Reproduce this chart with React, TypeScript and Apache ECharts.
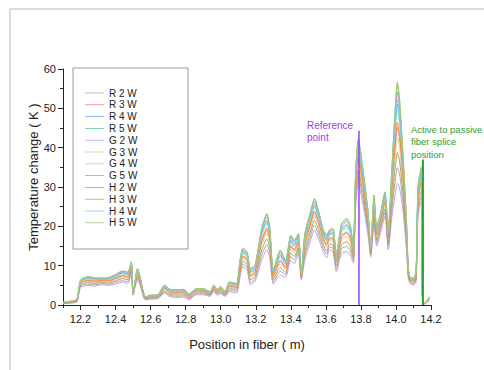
import React, { useEffect, useRef } from "react";
import * as echarts from "echarts";

const positions = [12.10,12.15,12.18,12.20,12.24,12.28,12.32,12.36,12.40,12.44,12.47,12.49,12.50,12.525,12.54,12.57,12.60,12.64,12.68,12.71,12.75,12.79,12.82,12.86,12.90,12.94,12.96,12.98,13.00,13.025,13.05,13.09,13.11,13.126,13.15,13.17,13.196,13.235,13.263,13.28,13.30,13.34,13.37,13.40,13.42,13.443,13.46,13.48,13.51,13.535,13.557,13.586,13.605,13.62,13.64,13.66,13.69,13.72,13.74,13.757,13.77,13.785,13.81,13.84,13.856,13.875,13.89,13.91,13.937,13.956,13.976,13.995,14.008,14.02,14.04,14.06,14.07,14.08,14.10,14.115,14.125,14.135,14.145,14.152,14.165,14.18,14.19];

const R2W = [0.4,0.6,0.9,4.8,5.3,5.1,5.4,5.3,5.7,6.2,5.9,8.5,2.6,6.9,5.3,1.4,1.7,1.8,3.3,2.4,2.2,2.3,1.5,2.8,2.8,2.4,3.7,2.7,3.2,2.4,3.8,3.4,7.7,10.4,9.7,5.7,6.6,12.8,15.4,13.2,5.8,8.6,7.7,12.4,11.4,13.9,6.7,12.5,17.1,20.3,18.1,14.3,12.9,14.8,14.4,9.2,14.3,14.9,13.7,11.2,26.4,32.7,27.4,18.9,12.7,21.2,15.7,18.8,23.5,14.8,23.9,31.2,34.9,33.5,26.2,15.1,7.4,5.8,5.3,6.4,23.2,26.2,27.6,0.6,0.5,0.9,1.3];
const R3W = [0.5,0.8,1.2,5.5,6.2,6.0,6.1,6.1,6.7,7.4,7.1,9.7,2.8,8.0,6.2,1.7,2.1,2.2,4.2,3.2,3.0,3.1,2.1,3.5,3.5,2.9,4.3,3.3,3.9,2.9,4.8,4.4,9.4,12.3,11.5,7.4,8.3,16.1,19.1,16.4,7.3,11.1,9.4,14.9,13.8,15.9,7.3,15.2,20.0,23.5,21.0,16.6,15.2,16.8,16.8,11.0,17.3,18.2,16.8,12.9,30.1,37.3,31.1,21.4,13.7,24.4,17.7,20.8,26.0,16.8,28.8,39.9,45.2,42.7,32.0,18.2,8.5,6.4,6.0,7.6,26.4,29.4,31.2,0.8,0.4,1.1,1.7];
const R4W = [0.6,0.9,1.3,6.0,6.7,6.5,6.4,6.6,7.2,8.1,7.8,10.3,2.9,8.7,6.7,1.9,2.3,2.4,4.6,3.6,3.5,3.6,2.5,3.9,3.8,3.1,4.7,3.7,4.3,3.1,5.4,5.0,10.4,13.4,12.6,8.4,9.3,18.1,21.3,18.2,8.1,12.6,10.4,16.4,15.2,17.1,7.7,16.7,21.7,25.3,22.6,17.9,16.5,18.0,18.2,12.1,19.1,20.2,18.6,13.9,32.3,39.9,33.2,22.8,14.3,26.2,18.8,21.9,27.4,18.0,31.6,44.9,51.1,47.9,35.4,19.9,9.1,6.8,6.4,8.3,28.2,31.2,33.2,0.9,0.3,1.2,1.9];
const R5W = [0.7,1.0,1.5,6.3,7.1,6.9,6.8,6.9,7.7,8.6,8.3,10.9,3.0,9.2,7.1,2.1,2.5,2.6,5.0,3.9,3.8,3.9,2.8,4.1,4.1,3.4,5.0,4.0,4.6,3.4,5.8,5.4,11.3,14.3,13.5,9.2,10.1,19.6,23.0,19.7,8.8,13.8,11.3,17.6,16.3,18.0,8.0,18.0,23.1,26.9,24.0,18.9,17.6,18.9,19.3,13.0,20.6,21.7,20.1,14.7,34.0,42.1,34.9,24.0,14.7,27.8,19.8,22.8,28.6,19.0,33.9,49.0,56.0,52.3,38.2,21.4,9.6,7.1,6.7,8.8,29.8,32.8,34.9,1.0,0.3,1.3,2.1];
const G2W = [0.3,0.5,0.8,4.5,5.0,4.8,5.2,5.0,5.3,5.8,5.5,8.0,2.5,6.5,5.0,1.3,1.5,1.6,3.0,2.1,1.9,2.0,1.3,2.6,2.6,2.2,3.4,2.5,2.9,2.2,3.4,3.0,7.0,9.7,9.0,5.1,6.0,11.5,14.0,12.0,5.3,7.6,7.0,11.4,10.5,13.1,6.4,11.5,16.0,19.1,17.0,13.5,12.0,14.0,13.5,8.5,13.1,13.6,12.5,10.6,25.0,31.0,26.0,18.0,12.3,20.0,15.0,18.0,22.5,14.0,22.0,28.0,31.0,30.0,24.0,14.0,7.0,5.5,5.0,6.0,22.0,25.0,26.3,0.5,0.5,0.8,1.2];
const G3W = [0.5,0.7,1.1,5.4,6.0,5.8,5.9,5.9,6.4,7.1,6.8,9.4,2.7,7.8,6.0,1.7,2.0,2.1,4.0,3.0,2.8,2.9,2.0,3.3,3.3,2.7,4.2,3.2,3.7,2.7,4.5,4.1,9.0,11.8,11.1,7.0,7.9,15.3,18.2,15.6,6.9,10.5,9.0,14.3,13.2,15.4,7.2,14.5,19.3,22.7,20.2,16.0,14.6,16.3,16.2,10.6,16.6,17.4,16.0,12.5,29.2,36.1,30.1,20.8,13.4,23.6,17.2,20.3,25.3,16.3,27.5,37.7,42.6,40.4,30.6,17.4,8.2,6.3,5.8,7.3,25.6,28.6,30.3,0.7,0.4,1.0,1.6];
const G4W = [0.6,0.9,1.3,5.9,6.6,6.4,7.0,6.4,7.1,7.9,7.6,10.2,2.9,8.5,6.6,1.9,2.2,2.3,4.5,3.5,3.3,3.4,2.4,3.8,3.8,3.1,4.6,3.6,4.2,3.1,5.2,4.8,10.2,13.1,12.3,8.1,9.0,17.6,20.7,17.7,7.9,12.2,10.2,16.0,14.8,16.8,7.6,16.3,21.3,24.9,22.2,17.5,16.2,17.7,17.8,11.8,18.6,19.6,18.1,13.6,31.7,39.2,32.6,22.5,14.1,25.8,18.5,21.6,27.0,17.7,30.9,43.6,49.6,46.6,34.5,19.5,8.9,6.7,6.3,8.1,27.8,30.8,32.7,0.9,0.4,1.2,1.8];
const G5W = [0.7,1.0,1.4,6.2,7.0,6.8,6.6,6.8,7.6,8.4,8.1,10.7,3.0,9.0,7.0,2.0,2.4,2.5,4.9,3.8,3.7,3.8,2.7,4.0,4.0,3.3,4.9,3.9,4.5,3.3,5.7,5.3,11.0,13.9,13.1,8.9,9.8,19.1,22.4,19.1,8.5,13.4,11.0,17.2,15.9,17.7,7.9,17.5,22.6,26.3,23.5,18.5,17.2,18.6,18.9,12.6,20.0,21.2,19.5,14.4,33.4,41.3,34.3,23.6,14.6,27.2,19.4,22.5,28.2,18.6,33.1,47.4,54.2,50.7,37.1,20.8,9.4,7.0,6.6,8.6,29.2,32.2,34.3,0.9,0.3,1.2,2.0];
const H2W = [0.4,0.7,1.0,5.1,5.7,5.5,5.7,5.6,6.1,6.7,6.4,8.9,2.7,7.3,5.7,1.5,1.8,1.9,3.6,2.7,2.5,2.6,1.8,3.1,3.1,2.6,3.9,3.0,3.4,2.6,4.2,3.8,8.3,11.1,10.4,6.4,7.3,14.0,16.8,14.4,6.4,9.5,8.3,13.3,12.3,14.6,6.9,13.5,18.2,21.5,19.2,15.2,13.7,15.5,15.3,9.9,15.4,16.1,14.8,11.9,27.8,34.4,28.8,19.9,13.1,22.4,16.5,19.5,24.4,15.5,25.7,34.5,38.7,36.9,28.4,16.3,7.8,6.0,5.5,6.9,24.4,27.4,29.0,0.6,0.4,0.9,1.5];
const H3W = [0.5,0.8,1.2,5.6,6.3,6.1,6.2,6.2,6.8,7.5,7.2,9.8,2.8,8.2,6.3,1.8,2.1,2.2,4.3,3.2,3.1,3.2,2.2,3.6,3.6,2.9,4.4,3.4,4.0,2.9,4.9,4.5,9.6,12.5,11.8,7.6,8.5,16.5,19.6,16.7,7.5,11.4,9.6,15.2,14.1,16.2,7.4,15.5,20.4,23.9,21.3,16.9,15.5,17.1,17.1,11.3,17.7,18.6,17.2,13.1,30.6,37.8,31.5,21.7,13.8,24.8,17.9,21.0,26.3,17.1,29.4,41.0,46.5,43.8,32.8,18.6,8.6,6.5,6.1,7.7,26.8,29.8,31.6,0.8,0.4,1.1,1.7];
const H4W = [0.6,0.9,1.4,6.1,6.8,6.6,6.5,6.6,7.4,8.2,7.9,10.5,2.9,8.8,6.8,2.0,2.3,2.4,4.7,3.7,3.5,3.6,2.5,3.9,3.9,3.2,4.8,3.7,4.4,3.2,5.5,5.1,10.6,13.6,12.8,8.5,9.4,18.4,21.6,18.5,8.3,12.8,10.6,16.6,15.4,17.3,7.8,17.0,22.0,25.7,22.9,18.1,16.8,18.2,18.4,12.3,19.4,20.5,18.9,14.0,32.6,40.4,33.5,23.1,14.4,26.6,19.0,22.1,27.7,18.2,32.1,45.7,52.2,48.9,36.0,20.2,9.2,6.9,6.5,8.4,28.6,31.6,33.6,0.9,0.3,1.2,1.9];
const H5W = [0.7,1.0,1.5,6.4,7.2,7.0,6.8,7.0,7.8,8.7,8.4,11.0,3.0,9.3,7.2,2.1,2.5,2.6,5.1,4.0,3.9,4.0,2.8,4.2,4.2,3.4,5.1,4.0,4.7,3.4,5.9,5.5,11.4,14.4,13.6,9.3,10.2,19.9,23.3,19.9,8.9,14.0,11.4,17.8,16.5,18.2,8.1,18.2,23.3,27.1,24.2,19.1,17.8,19.1,19.5,13.1,20.8,22.0,20.3,14.8,34.3,42.4,35.2,24.2,14.8,28.0,19.9,23.0,28.8,19.1,34.3,49.6,56.8,53.0,38.6,21.6,9.7,7.2,6.8,8.9,30.0,33.0,35.2,1.0,0.3,1.3,2.1];

const seriesNames = ["R 2 W","R 3 W","R 4 W","R 5 W","G 2 W","G 3 W","G 4 W","G 5 W","H 2 W","H 3 W","H 4 W","H 5 W"];
const seriesValues = [R2W,R3W,R4W,R5W,G2W,G3W,G4W,G5W,H2W,H3W,H4W,H5W];
const seriesColors = ["#a9a9a9","#f47f7a","#6ea6ee","#6cc59a","#c49cf2","#e6c98c","#7ee0e0","#b59aa8","#a7a45c","#f58e3a","#8cc3ee","#9fcc72"];

const xTickLabels = [12.2,12.4,12.6,12.8,13.0,13.2,13.4,13.6,13.8,14.0,14.2];
const xMinorTicks = [12.1,12.3,12.5,12.7,12.9,13.1,13.3,13.5,13.7,13.9,14.1];

const referencePoint = { x: 13.789, top: 44.3 };
const splicePoint = { x: 14.154, top: 37.0 };

const FONT = "'Liberation Sans', Arial, sans-serif";

export default function App() {
  const ref = useRef<HTMLDivElement>(null);
  useEffect(() => {
    if (!ref.current) return;
    const chart = echarts.init(ref.current, undefined, { renderer: "svg" });
    const lineSeries: any[] = seriesNames.map((name, i) => ({
      name,
      type: "line",
      xAxisIndex: 0,
      data: positions.map((p, j) => [p, seriesValues[i][j]]),
      showSymbol: false,
      symbol: "none",
      smooth: 0.2,
      lineStyle: { width: 1, color: seriesColors[i] },
      itemStyle: { color: seriesColors[i] },
      z: 2,
    }));
    lineSeries.push({
      name: "ref",
      type: "line",
      data: [[referencePoint.x, 0], [referencePoint.x, referencePoint.top]],
      symbol: "none",
      lineStyle: { width: 1.5, color: "#a23cf5" },
      z: 5,
    });
    lineSeries.push({
      name: "splice",
      type: "line",
      data: [[splicePoint.x, 0], [splicePoint.x, splicePoint.top]],
      symbol: "none",
      lineStyle: { width: 2, color: "#2e9e2e" },
      z: 5,
    });
    chart.setOption({
      animation: false,
      backgroundColor: "#fff",
      grid: { left: 63, right: 53, top: 69, bottom: 65, containLabel: false },
      legend: {
        data: seriesNames,
        orient: "vertical",
        left: 85,
        top: 88,
        padding: 0,
        itemWidth: 19,
        itemHeight: 10,
        itemGap: 1.8,
        icon: "path://M0,4.55L22,4.55L22,5.45L0,5.45Z",
        textStyle: { fontSize: 10, color: "#222", fontFamily: FONT, lineHeight: 10 },
        selectedMode: false,
      },
      xAxis: [
        {
          type: "value",
          min: 12.1,
          max: 14.2,
          axisLine: { show: true, lineStyle: { color: "#222", width: 1 } },
          axisTick: { show: true, inside: false, length: 5, customValues: xTickLabels, lineStyle: { color: "#222" } },
          axisLabel: {
            customValues: xTickLabels,
            formatter: (v: number) => v.toFixed(1),
            fontSize: 11,
            color: "#222",
            fontFamily: FONT,
            margin: 8,
          },
          splitLine: { show: false },
        },
        {
          type: "value",
          min: 12.1,
          max: 14.2,
          position: "bottom",
          axisLine: { show: false },
          axisTick: { show: true, inside: false, length: 3, customValues: xMinorTicks, lineStyle: { color: "#222" } },
          axisLabel: { show: false },
          splitLine: { show: false },
        },
      ],
      yAxis: {
        type: "value",
        min: 0,
        max: 60,
        interval: 10,
        axisLine: { show: true, lineStyle: { color: "#222", width: 1 } },
        axisTick: { show: true, inside: false, length: 5, lineStyle: { color: "#222" } },
        minorTick: { show: true, splitNumber: 2, length: 3, lineStyle: { color: "#222" } },
        axisLabel: { fontSize: 11, color: "#222", fontFamily: FONT, margin: 7 },
        splitLine: { show: false },
      },
      graphic: [
        { type: "line", shape: { x1: 10, y1: 9, x2: 484, y2: 9 }, style: { stroke: "#cfcfcf", lineWidth: 1.5 } },
        { type: "line", shape: { x1: 10, y1: 9, x2: 10, y2: 370 }, style: { stroke: "#cfcfcf", lineWidth: 1.5 } },
        { type: "rect", shape: { x: 73, y: 68, width: 115, height: 181 }, style: { fill: "none", stroke: "#9a9a9a", lineWidth: 1 }, z: 1 },
        {
          type: "text",
          x: 33,
          y: 177,
          rotation: Math.PI / 2,
          style: { text: "Temperature change ( K )", font: `13px ${FONT}`, fill: "#222", align: "center", verticalAlign: "middle" },
        },
        {
          type: "text",
          x: 247,
          y: 344,
          style: { text: "Position in fiber ( m)", font: `13px ${FONT}`, fill: "#222", align: "center", verticalAlign: "middle" },
        },
        {
          type: "text",
          x: 307,
          y: 119,
          style: { text: "Reference\npoint", font: `10px ${FONT}`, lineHeight: 12.5, fill: "#9b3cf0", align: "left", verticalAlign: "top" },
        },
        {
          type: "text",
          x: 411,
          y: 123,
          style: { text: "Active to passive\nfiber splice\nposition", font: `9.5px ${FONT}`, lineHeight: 12.5, fill: "#2e9e2e", align: "left", verticalAlign: "top" },
        },
      ],
      series: lineSeries,
    });
    return () => chart.dispose();
  }, []);
  return <div ref={ref} style={{ width: 484, height: 370, position: "absolute", left: 0, top: 0 }} />;
}
